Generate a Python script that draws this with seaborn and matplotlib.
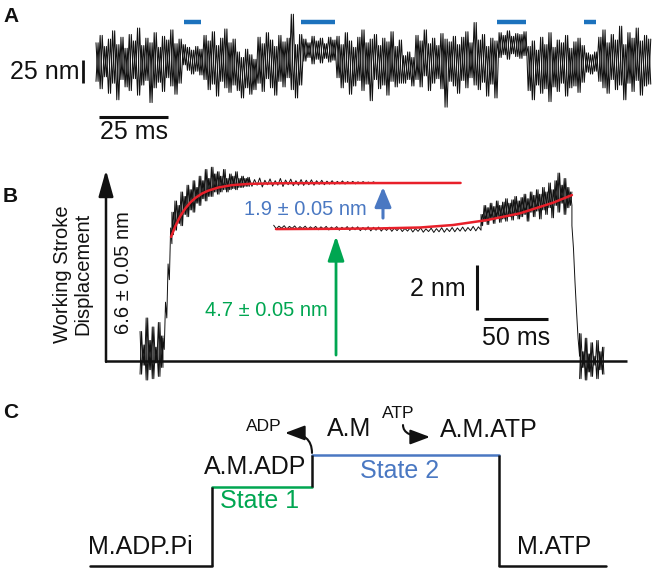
import numpy as np
import pandas as pd
import matplotlib
matplotlib.use("Agg")
import matplotlib.pyplot as plt
import seaborn as sns
from matplotlib.patches import FancyArrowPatch

sns.set_theme(style="white")
plt.rcParams["font.family"] = ["Liberation Sans", "DejaVu Sans"]

# ---------------- data ----------------
# Panel A: single-molecule trace (nm) read as upper / lower excursions, pairs every 1.5 ms
a_hi = [22, 30, 18, 26, 35, 20, 28, 16, 31, 24, 38, 19, 27, 22, 33, 17, 29, 25, 36, 21, 26,
        20, 17, 14, 18, 15,
        30, 24, 34, 19, 27, 37, 22, 26,
        12, 6, 15, 9, 4,
        28, 21, 33, 25, 18, 30, 23, 27, 53, 20, 31,
        26, 22, 29, 24, 27, 21, 28, 25,
        29, 20, 33, 24, 17, 28, 36, 22, 26, 31, 19, 27, 23, 34, 18, 25,
        8, 12, 6,
        30, 24, 36, 21, 27, 19, 32, 26, 23, 29, 20, 28, 34, 22, 44, 25, 31, 18, 27, 24,
        33, 30, 35, 29, 32, 31, 34,
        18, 24, 14, 28, 20, 33, 17, 25, 22, 30, 16, 23, 27, 19,
        11, 9, 12,
        28, 36, 22, 31, 25, 40, 20, 33, 27, 38, 24, 30, 26]
a_lo = [-20, -28, -15, -33, -22, -40, -18, -26, -30, -17, -35, -24, -19, -43, -27, -21, -31, -16, -25, -34, -22,
        -2, -8, -12, -9, -13,
        -18, -29, -23, -36, -20, -27, -32, -24,
        -30, -38, -27, -34, -29,
        -22, -31, -17, -27, -35, -20, -26, -16, -29, -38, -24,
        2, 6, -1, 4, 0, 5, 1, 3,
        -16, -27, -21, -34, -25, -19, -30, -23, -41, -18, -28, -24, -35, -20, -26, -22,
        -22, -18, -25,
        -18, -26, -14, -30, -22, -17, -28, -48, -20, -25, -33, -19, -27, -16, -24, -29, -21, -36, -23, -38,
        6, 9, 4, 10, 7, 5, 8,
        -30, -40, -24, -33, -28, -42, -26, -31, -22, -36, -27, -25, -32, -21,
        -10, -12, -9,
        -20, -27, -33, -18, -29, -24, -40, -22, -31, -19, -35, -25, -23]
a_span_ms = [0, 201]
a_bar_start = [32.0, 74.3, 145.3, 176.8]
a_bar_end = [38.2, 86.6, 155.8, 181.2]

# Panel B: ensemble-averaged traces; segments (start ms, end ms) with upper / lower excursions (nm)
bf_bounds = [(26.6, 44.5), (44.5, 51.5), (51.5, 112.0), (112.0, 211.0)]
bf1_hi = [1.3, 0.7, 1.9, 0.9, 1.5, 0.6, 1.7, 1.1]
bf1_lo = [-0.6, -0.2, -0.86, -0.4, -0.8, -0.1, -0.7, -0.3]
bf2_hi = [1.0, 2.6, 4.3, 5.9]
bf2_lo = [0.5, 1.9, 3.6, 5.2]
bf3_hi = [6.6, 7.1, 6.9, 7.5, 7.3, 7.8, 7.6, 8.0, 7.7, 8.2, 8.0, 8.5, 8.1, 8.6, 8.3, 8.4,
          8.2, 8.5, 8.1, 8.3, 8.2, 8.4, 8.1, 8.2, 8.1, 8.15]
bf3_lo = [5.6, 5.8, 6.1, 6.0, 6.5, 6.4, 6.7, 6.6, 7.0, 6.9, 7.2, 7.1, 7.3, 7.3, 7.5, 7.4,
          7.5, 7.6, 7.5, 7.6, 7.65, 7.6, 7.7, 7.7, 7.75, 7.75]
bf4_hi = [8.1, 8.05, 8.12, 8.02, 8.08, 8.0, 8.1, 8.03, 8.07, 8.0, 8.05, 8.02, 8.04, 8.0,
          8.02, 7.98, 8.0, 7.97, 7.99, 7.96, 7.97, 7.95, 7.96, 7.94, 7.95]
bf4_lo = [7.75, 7.8, 7.72, 7.82, 7.76, 7.8, 7.74, 7.82, 7.78, 7.8, 7.79, 7.82, 7.8, 7.84,
          7.82, 7.85, 7.84, 7.86, 7.85, 7.87, 7.86, 7.88, 7.87, 7.88, 7.88]

bb_bounds = [(131.0, 293.0), (293.0, 364.0), (364.0, 370.0), (370.0, 389.0)]
bb1_hi = [6.02, 5.98, 6.0, 5.97, 5.99, 5.96, 5.98, 5.95, 5.97, 5.95, 5.97, 5.94, 5.96, 5.93,
          5.96, 5.94, 5.95, 5.92, 5.95, 5.93, 5.94, 5.91, 5.93, 5.9, 5.92, 5.88, 5.9, 5.87,
          5.9, 5.86, 5.89, 5.87, 5.91, 5.88, 5.92, 5.9, 5.94, 5.92, 5.97, 5.95]
bb1_lo = [5.86, 5.89, 5.85, 5.88, 5.84, 5.87, 5.83, 5.86, 5.82, 5.85, 5.81, 5.84, 5.8, 5.83,
          5.79, 5.82, 5.78, 5.81, 5.77, 5.8, 5.76, 5.79, 5.75, 5.78, 5.74, 5.76, 5.72, 5.75,
          5.71, 5.74, 5.7, 5.73, 5.71, 5.74, 5.73, 5.76, 5.75, 5.78, 5.77, 5.8]
bb2_hi = [6.5, 6.9, 6.8, 7.0, 6.85, 7.1, 6.9, 7.05, 7.2, 7.0, 7.15, 7.3, 7.1, 7.25, 7.4,
          7.2, 7.5, 7.35, 7.6, 7.4, 7.7, 7.5, 7.9, 7.6, 8.0, 8.34, 7.8, 8.1, 7.7, 7.5]
bb2_lo = [6.0, 6.2, 6.05, 6.3, 6.1, 6.35, 6.15, 6.3, 6.2, 6.4, 6.25, 6.45, 6.3, 6.4, 6.5,
          6.2, 6.6, 6.4, 6.65, 6.3, 6.7, 6.5, 6.8, 6.35, 6.9, 6.6, 7.0, 6.5, 6.8, 6.9]
bb3_hi = [6.0, 3.5, 1.0]
bb3_lo = [5.0, 2.2, 0.2]
bb4_hi = [1.2, 0.4, 1.0, 0.3, 0.8, 0.2, 0.9, 0.4, 0.6]
bb4_lo = [-0.8, -0.3, -0.86, -0.5, -0.7, -0.2, -0.8, -0.4, -0.6]

# exponential fits (red)
fit1_t = [50.8, 54, 58, 62, 66, 70, 75, 80, 88, 98, 112, 140, 277]
fit1_v = [5.50, 5.96, 6.42, 6.77, 7.04, 7.24, 7.43, 7.56, 7.70, 7.80, 7.86, 7.89, 7.90]
fit2_t = [132.8, 175, 214, 245.3, 271, 297.7, 323.4, 349.2, 364]
fit2_v = [5.85, 5.86, 5.88, 5.92, 6.03, 6.25, 6.55, 7.02, 7.36]

# Panel C: working-stroke step diagram
c_bounds = [0.0, 1.22, 2.22, 4.09, 5.16]
c_levels = [0.0, 4.7, 6.6, 0.0]

# ---------------- colors ----------------
BLACK = "#111111"
RED = "#e8202a"
GREEN = "#00a651"
BLUE = "#4a78c2"
BAR_BLUE = "#1c72bd"


def zigzag(t0, t1, hi, lo, flip=False):
    pair = [lo, hi] if flip else [hi, lo]
    v = np.ravel(np.column_stack(pair))
    t = np.linspace(t0, t1, len(v))
    return t, v


fig = plt.figure(figsize=(6.52, 5.68), dpi=100)

# ---------------- Panel A ----------------
axA = fig.add_axes([0, 0, 1, 1])
axA.set_facecolor("none")
axA.set_xlim(-96 / 2.76, (652 - 96) / 2.76)
axA.set_ylim((63 - 568) * 1.087, 63 * 1.087)
axA.axis("off")

for flip in (False, True):
    tA, vA = zigzag(a_span_ms[0], a_span_ms[1], a_hi, a_lo, flip)
    sns.lineplot(x=tA, y=vA, ax=axA, color=BLACK, lw=0.75, sort=False, estimator=None)
for s, e in zip(a_bar_start, a_bar_end):
    axA.plot([s, e], [44.8, 44.8], color=BAR_BLUE, lw=3.2, solid_capstyle="butt")
# scale bars
axA.plot([1.1, 26.1], [-58.7, -58.7], color=BLACK, lw=2.2, solid_capstyle="butt")
axA.plot([-4.7, -4.7], [3.3, -21.7], color=BLACK, lw=2.0, solid_capstyle="butt")
axA.text(13.8, -74.5, "25 ms", ha="center", va="center", fontsize=18, color=BLACK)
axA.text(-6.0, -9.5, "25 nm", ha="right", va="center", fontsize=18, color=BLACK)

# ---------------- Panel B ----------------
axB = fig.add_axes([0, 0, 1, 1])
axB.set_facecolor("none")
axB.set_xlim(-106 / 1.28, (652 - 106) / 1.28)
axB.set_ylim((360.7 - 568) / 22.5, 360.7 / 22.5)
axB.axis("off")

front_hi = [bf1_hi, bf2_hi, bf3_hi, bf4_hi]
front_lo = [bf1_lo, bf2_lo, bf3_lo, bf4_lo]
back_hi = [bb1_hi, bb2_hi, bb3_hi, bb4_hi]
back_lo = [bb1_lo, bb2_lo, bb3_lo, bb4_lo]
noisy_front = [True, False, True, False]
noisy_back = [False, True, False, True]

rows = []
for name, bounds, his, los, noisy in [("front", bf_bounds, front_hi, front_lo, noisy_front),
                                      ("back", bb_bounds, back_hi, back_lo, noisy_back)]:
    for flip in (False, True):
        ts, vs = [], []
        for (s, e), hi, lo, nz in zip(bounds, his, los, noisy):
            if flip and not nz:
                # second pass only through the noisy stretches
                if ts:
                    rows.append((f"{name}-{flip}-{len(rows)}", np.concatenate(ts), np.concatenate(vs)))
                ts, vs = [], []
                continue
            t, v = zigzag(s, e, hi, lo, flip)
            ts.append(t); vs.append(v)
        if ts:
            rows.append((f"{name}-{flip}-{len(rows)}", np.concatenate(ts), np.concatenate(vs)))

dfB = pd.concat([pd.DataFrame({"t": t, "v": v, "trace": k}) for k, t, v in rows], ignore_index=True)
sns.lineplot(data=dfB, x="t", y="v", units="trace", estimator=None, sort=False,
             ax=axB, color=BLACK, lw=0.7)
sns.lineplot(x=fit1_t, y=fit1_v, ax=axB, color=RED, lw=1.8, sort=False, estimator=None)
sns.lineplot(x=fit2_t, y=fit2_v, ax=axB, color=RED, lw=1.8, sort=False, estimator=None)

# axes: baseline and vertical arrow
axB.plot([-0.8, 407], [0, 0], color=BLACK, lw=1.8, solid_capstyle="butt", zorder=1)
axB.add_patch(FancyArrowPatch((0, -0.05), (0, 8.47), arrowstyle="-|>,head_length=1.6,head_width=0.45",
                              mutation_scale=10, color=BLACK, lw=1.8, shrinkA=0, shrinkB=0))
# green and blue arrows
axB.add_patch(FancyArrowPatch((179.7, 0.25), (179.7, 5.54), arrowstyle="-|>,head_length=1.5,head_width=0.5",
                              mutation_scale=10, color=GREEN, lw=2.0, shrinkA=0, shrinkB=0))
axB.add_patch(FancyArrowPatch((216.4, 6.34), (216.4, 7.72), arrowstyle="-|>,head_length=1.2,head_width=0.5",
                              mutation_scale=10, color=BLUE, lw=2.2, shrinkA=0, shrinkB=0))
axB.text(155.5, 6.74, "1.9 ± 0.05 nm", ha="center", va="center", fontsize=14.5, color=BLUE)
axB.text(125.0, 2.24, "4.7 ± 0.05 nm", ha="center", va="center", fontsize=14.5, color=GREEN)
axB.text(13.3, 3.9, "6.6 ± 0.05 nm", ha="center", va="center", fontsize=14.5, color=BLACK, rotation=90)
axB.text(-26.0, 3.85, "Working Stroke\nDisplacement", ha="center", va="center", fontsize=14.5,
         color=BLACK, rotation=90, multialignment="center", linespacing=1.15)
# scale bars
axB.plot([289.8, 289.8], [2.25, 4.25], color=BLACK, lw=2.2, solid_capstyle="butt")
axB.plot([295.3, 345.3], [1.85, 1.85], color=BLACK, lw=2.2, solid_capstyle="butt")
axB.text(259.4, 3.19, "2 nm", ha="center", va="center", fontsize=18, color=BLACK)
axB.text(320.3, 1.0, "50 ms", ha="center", va="center", fontsize=18, color=BLACK)

# ---------------- Panel C ----------------
axC = fig.add_axes([0, 0, 1, 1])
axC.set_facecolor("none")
axC.set_xlim(-0.9, 5.62)
axC.set_ylim(-2 / 16.8, 566 / 16.8)
axC.axis("off")

step_colors = [BLACK, GREEN, BLUE, BLACK]
for i, lev in enumerate(c_levels):
    sns.lineplot(x=[c_bounds[i], c_bounds[i + 1]], y=[lev, lev], ax=axC, color=step_colors[i],
                 lw=1.8, estimator=None)
for i in range(1, len(c_levels)):
    axC.plot([c_bounds[i], c_bounds[i]], [c_levels[i - 1], c_levels[i]], color=BLACK, lw=1.8,
             solid_capstyle="butt")

axC.text(0.5, 1.13, "M.ADP.Pi", ha="center", va="center", fontsize=18, color=BLACK)
axC.text(4.645, 1.13, "M.ATP", ha="center", va="center", fontsize=18, color=BLACK)
axC.text(1.7, 3.87, "State 1", ha="center", va="center", fontsize=18, color=GREEN)
axC.text(3.1, 5.65, "State 2", ha="center", va="center", fontsize=18, color=BLUE)
axC.text(2.16, 5.89, "A.M.ADP", ha="right", va="center", fontsize=18, color=BLACK)
axC.text(2.595, 8.15, "A.M", ha="center", va="center", fontsize=18, color=BLACK)
axC.text(3.99, 8.1, "A.M.ATP", ha="center", va="center", fontsize=18, color=BLACK)
axC.text(1.74, 8.3, "ADP", ha="center", va="center", fontsize=12.5, color=BLACK)
axC.text(3.085, 9.08, "ATP", ha="center", va="center", fontsize=12.5, color=BLACK)
axC.add_patch(FancyArrowPatch((2.22, 6.73), (1.95, 7.92), connectionstyle="angle3,angleA=90,angleB=0",
                              arrowstyle="-|>,head_length=1.2,head_width=0.45", mutation_scale=10,
                              color=BLACK, lw=1.5, shrinkA=0, shrinkB=0))
axC.add_patch(FancyArrowPatch((3.13, 8.39), (3.4, 7.68), connectionstyle="angle3,angleA=90,angleB=0",
                              arrowstyle="-|>,head_length=1.2,head_width=0.45", mutation_scale=10,
                              color=BLACK, lw=1.5, shrinkA=0, shrinkB=0))

# panel letters
for lab, ypx in [("A", 17), ("B", 197), ("C", 412)]:
    fig.text(3 / 652, 1 - ypx / 568, lab, ha="left", va="center", fontsize=15, fontweight="bold",
             color=BLACK)

fig.savefig("out.png", dpi=100)
